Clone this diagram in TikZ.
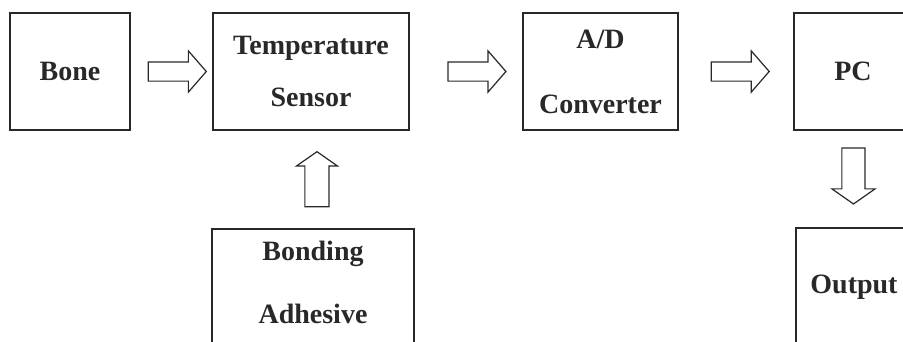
\documentclass[tikz,border=0pt]{standalone}
\usepackage{fontspec}
\setmainfont{Liberation Serif}
\usetikzlibrary{calc, positioning, shapes.arrows}
\definecolor{inkgray}{RGB}{40, 40, 40}
\tikzset{
	blockbox/.style={draw=inkgray, line width=1.5pt, inner sep=0pt,
		align=center, text=inkgray,
		font=\bfseries\fontsize{28}{34}\selectfont},
	hollowarrow/.style={single arrow, draw=inkgray, line width=1.2pt,
		fill=white, inner xsep=0pt, inner ysep=9pt, minimum width=40pt,
		minimum height=58pt, single arrow head extend=11pt,
		single arrow tip angle=98}
}

\begin{document}
\begin{tikzpicture}[x=1pt, y=-1pt]
	\useasboundingbox (0,0) rectangle (903,341);
	\clip (0,0) rectangle (903,341);
	% top row of blocks
	\node[blockbox, minimum width=120pt, minimum height=117pt] (bone)
	at (70,71.5) {Bone};
	\node[blockbox, minimum width=196pt, minimum height=117pt] (sensor)
	at (311,71.5) {Temperature\\[18pt]Sensor};
	\node[blockbox, minimum width=155pt, minimum height=117pt] (adc)
	at (600.5,71.5) {A/D\\[31pt]Converter};
	\node[blockbox, minimum width=118pt, minimum height=117pt] (pc)
	at (853,71.5) {PC};
	% lower blocks, running off the bottom edge
	\node[blockbox, anchor=north, minimum width=202pt,
	text height=94.5pt, text depth=60pt] (adhesive)
	at (313,228) {Bonding\\[29pt]Adhesive};
	\node[blockbox, anchor=north, minimum width=116pt,
	text height=65.3pt, text depth=70pt] (output)
	at (854,227) {Output};
	% hollow arrows between the blocks
	\node[hollowarrow] (a1) at ($(bone.east)!0.52!(sensor.west)$) {};
	\node[hollowarrow] (a2) at ($(sensor.east)!0.56!(adc.west)$) {};
	\node[hollowarrow] (a3) at ($(adc.east)!0.5!(pc.west)$) {};
	\node[hollowarrow, shape border rotate=90, minimum height=55pt,
	inner xsep=11.5pt, inner ysep=0pt, single arrow head extend=8.5pt,
	single arrow tip angle=110, xshift=5pt, yshift=-5pt] (a4)
	at ($(sensor.south)!0.49!(adhesive.north)$) {};
	\node[hollowarrow, shape border rotate=270, minimum height=56pt,
	inner xsep=11pt, inner ysep=0pt, single arrow head extend=10pt,
	single arrow tip angle=110, yshift=6pt] (a5)
	at ($(pc.south)!0.49!(output.north)$) {};
\end{tikzpicture}
\end{document}
